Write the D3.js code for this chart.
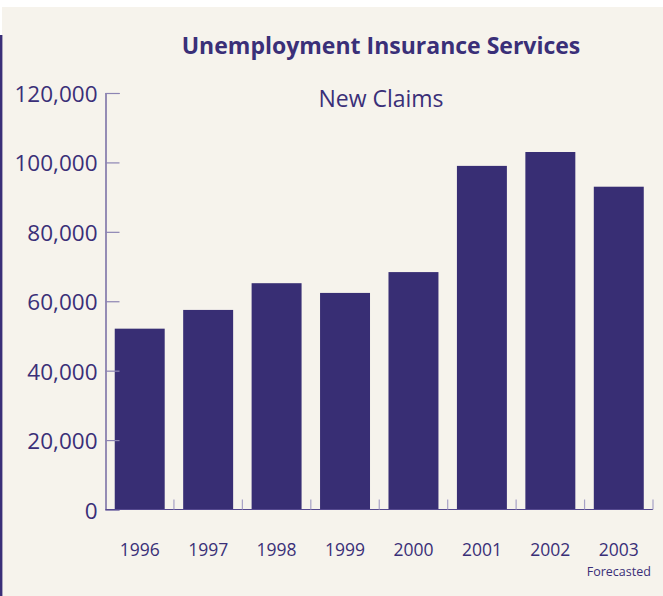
<!DOCTYPE html>
<html>
<head>
<meta charset="utf-8">
<script src="https://cdn.jsdelivr.net/npm/d3@7"></script>
<style>
  html, body { margin: 0; padding: 0; background: #ffffff; }
  svg { display: block; }
  text { font-family: "Open Sans", "Noto Sans", sans-serif; }
</style>
</head>
<body>
<svg id="chart" width="663" height="596"></svg>
<script>
// New claims filed with Unemployment Insurance Services, by year
const years = ["1996", "1997", "1998", "1999", "2000", "2001", "2002", "2003"];
const newClaims = [52100, 57500, 65200, 62400, 68400, 99000, 103000, 93000];
const yTicks = [0, 20000, 40000, 60000, 80000, 100000, 120000];

const W = 663, H = 596;
const ink = "#3a2f78";
const barFill = "#382e74";
const paper = "#f6f3ec";

const svg = d3.select("#chart");

// page background and left rule
svg.append("rect").attr("x", 2).attr("y", 7).attr("width", W - 2).attr("height", H - 7).attr("fill", paper);
svg.append("rect").attr("x", 0).attr("y", 35).attr("width", 2.4).attr("height", H - 35).attr("fill", ink);

const plotLeft = 105.5, plotRight = 653, plotTop = 93, plotBottom = 509.5;

const x = d3.scaleBand().domain(years).range([plotLeft, plotRight]).paddingInner(0.27).paddingOuter(0.135);
const xEdges = d3.scaleBand().domain(years).range([plotLeft, plotRight]);
const y = d3.scaleLinear().domain([0, 120000]).range([plotBottom, plotTop]);

// titles
svg.append("text")
  .attr("x", 381).attr("y", 54)
  .attr("text-anchor", "middle")
  .attr("font-size", 23).attr("font-weight", 700)
  .attr("fill", ink)
  .text("Unemployment Insurance Services");

svg.append("text")
  .attr("x", 381).attr("y", 107)
  .attr("text-anchor", "middle")
  .attr("font-size", 23)
  .attr("fill", ink)
  .text("New Claims");

// bars
svg.append("g").selectAll("rect")
  .data(years)
  .join("rect")
  .attr("x", (d) => x(d))
  .attr("width", x.bandwidth())
  .attr("y", (d, i) => y(newClaims[i]))
  .attr("height", (d, i) => y(0) - y(newClaims[i]))
  .attr("fill", barFill);

// y axis: inward ticks, labels on the left
const yAxis = d3.axisLeft(y)
  .tickValues(yTicks)
  .tickSize(-14)
  .tickPadding(8)
  .tickFormat(d3.format(","));

const gy = svg.append("g").attr("transform", `translate(${plotLeft},0)`).call(yAxis);
gy.select(".domain").attr("stroke", "#55498f").attr("stroke-width", 1.2);
gy.selectAll(".tick line").attr("stroke", "#8c84b3").attr("stroke-width", 1.2);
gy.selectAll(".tick text")
  .attr("fill", ink)
  .attr("font-size", 22.5)
  .attr("font-family", "'Open Sans', 'Noto Sans', sans-serif")
  .attr("dy", "0.38em");

// baseline with separators between years
const gx = svg.append("g");
gx.append("line")
  .attr("x1", plotLeft).attr("x2", plotRight)
  .attr("y1", y(0)).attr("y2", y(0))
  .attr("stroke", "#55498f").attr("stroke-width", 1.2);
gx.selectAll("line.sep")
  .data(years)
  .join("line")
  .attr("class", "sep")
  .attr("x1", (d) => xEdges(d) + xEdges.bandwidth())
  .attr("x2", (d) => xEdges(d) + xEdges.bandwidth())
  .attr("y1", y(0)).attr("y2", y(0) - 10)
  .attr("stroke", "#a7a1c6").attr("stroke-width", 1.2);

gx.selectAll("text.year")
  .data(years)
  .join("text")
  .attr("class", "year")
  .attr("x", (d) => x(d) + x.bandwidth() / 2)
  .attr("y", 555.5)
  .attr("text-anchor", "middle")
  .attr("font-size", 17.5)
  .attr("fill", ink)
  .text((d) => d);

svg.append("text")
  .attr("x", x("2003") + x.bandwidth() / 2)
  .attr("y", 575.5)
  .attr("text-anchor", "middle")
  .attr("font-size", 12.5)
  .attr("fill", ink)
  .text("Forecasted");
</script>
</body>
</html>
